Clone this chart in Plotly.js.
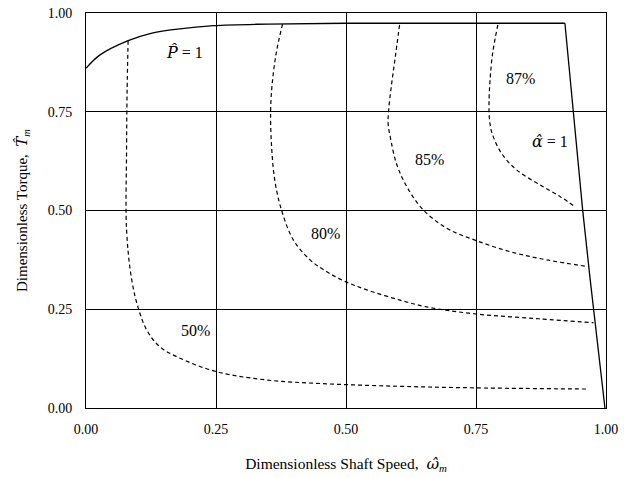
<!DOCTYPE html>
<html>
<head>
<meta charset="utf-8">
<script src="https://cdn.plot.ly/plotly-3.0.1.min.js"></script>
<style>html,body{margin:0;padding:0;background:#fff;}#chart{width:629px;height:478px;}</style>
</head>
<body>
<div id="chart"></div>
<script>
// Constant-power limit curve (P̂ = 1)
const powerX = [0.0, 0.027, 0.081, 0.123, 0.168, 0.245, 0.35, 0.5, 0.7, 0.921];
const powerY = [0.86, 0.894, 0.93, 0.948, 0.958, 0.968, 0.972, 0.974, 0.974, 0.974];
// Limit line α̂ = 1
const alphaX = [0.921, 0.937, 0.955, 0.969, 0.998];
const alphaY = [0.974, 0.754, 0.503, 0.332, 0.0];
// Efficiency contours
const eff50X = [0.081, 0.079, 0.078, 0.078, 0.088, 0.101, 0.117, 0.142, 0.181, 0.251, 0.347, 0.45, 0.6, 0.75, 0.965];
const eff50Y = [0.93, 0.80, 0.65, 0.451, 0.324, 0.251, 0.197, 0.155, 0.126, 0.092, 0.071, 0.062, 0.055, 0.051, 0.048];
const eff80X = [0.378, 0.366, 0.358, 0.355, 0.357, 0.363, 0.376, 0.399, 0.431, 0.463, 0.499, 0.540, 0.604, 0.655, 0.75, 0.87, 0.976];
const eff80Y = [0.972, 0.90, 0.82, 0.75, 0.66, 0.577, 0.501, 0.425, 0.375, 0.345, 0.320, 0.299, 0.273, 0.256, 0.238, 0.226, 0.216];
const eff85X = [0.603, 0.594, 0.587, 0.582, 0.581, 0.585, 0.597, 0.617, 0.649, 0.694, 0.748, 0.815, 0.886, 0.966];
const eff85Y = [0.970, 0.881, 0.813, 0.754, 0.72, 0.687, 0.619, 0.560, 0.501, 0.455, 0.425, 0.396, 0.375, 0.358];
const eff87X = [0.792, 0.782, 0.777, 0.775, 0.776, 0.781, 0.799, 0.828, 0.873, 0.912, 0.940];
const eff87Y = [0.970, 0.898, 0.830, 0.77, 0.73, 0.695, 0.645, 0.603, 0.565, 0.535, 0.510];
// Labels
const hat = (c) => '<span style="font-family:DejaVu Serif">' + c + '\u0302</span>';
const labelText = ["<i>" + hat("P") + "</i> = 1", "87%", "<i>" + hat("\u03b1") + "</i> = 1", "85%", "80%", "50%"];
const labelX = [0.19, 0.836, 0.892, 0.661, 0.46, 0.21];
const labelY = [0.90, 0.835, 0.674, 0.628, 0.442, 0.197];
const tickVals = [0, 0.25, 0.5, 0.75, 1.0];
const tickText = ["0.00", "0.25", "0.50", "0.75", "1.00"];
const xTitle = "Dimensionless Shaft Speed,  <i>" + hat("\u03c9") + "<sub>m</sub></i>";
const yTitle = "Dimensionless Torque,  <i>" + hat("T") + "<sub>m</sub></i>";

const font = "Liberation Serif, Times New Roman, serif";
const solid = {color: "black", width: 1.3};
const dashed = {color: "black", width: 1.2, dash: "4px,3px"};
const sp = (o) => Object.assign({shape: "spline", smoothing: 1}, o);

const traces = [
  {x: powerX, y: powerY, mode: "lines", line: sp(solid)},
  {x: alphaX, y: alphaY, mode: "lines", line: solid},
  {x: eff50X, y: eff50Y, mode: "lines", line: sp(dashed)},
  {x: eff80X, y: eff80Y, mode: "lines", line: sp(dashed)},
  {x: eff85X, y: eff85Y, mode: "lines", line: sp(dashed)},
  {x: eff87X, y: eff87Y, mode: "lines", line: sp(dashed)}
];

const annotations = labelText.map((t, i) => ({
  x: labelX[i], y: labelY[i], xref: "x", yref: "y", text: t, showarrow: false,
  font: {family: font, size: 16, color: "black"}
}));

const layout = {
  width: 629, height: 478,
  margin: {l: 86, r: 23, t: 13, b: 70},
  paper_bgcolor: "white", plot_bgcolor: "white",
  showlegend: false,
  font: {family: font, size: 14, color: "black"},
  xaxis: {
    range: [0, 1], tickvals: tickVals, ticktext: tickText,
    showgrid: true, gridcolor: "black", gridwidth: 1,
    showline: true, linecolor: "black", linewidth: 1, mirror: true,
    zeroline: false, ticks: "outside", ticklen: 8, tickcolor: "rgba(0,0,0,0)",
    title: {text: xTitle, font: {family: font, size: 15.5}, standoff: 22},
    automargin: false
  },
  yaxis: {
    range: [0, 1], tickvals: tickVals, ticktext: tickText,
    showgrid: true, gridcolor: "black", gridwidth: 1,
    showline: true, linecolor: "black", linewidth: 1, mirror: true,
    zeroline: false, ticks: "outside", ticklen: 10, tickcolor: "rgba(0,0,0,0)",
    title: {text: yTitle, font: {family: font, size: 15}, standoff: 16},
    automargin: false
  },
  annotations: annotations
};

Plotly.newPlot("chart", traces, layout, {staticPlot: true, displayModeBar: false});
</script>
</body>
</html>
